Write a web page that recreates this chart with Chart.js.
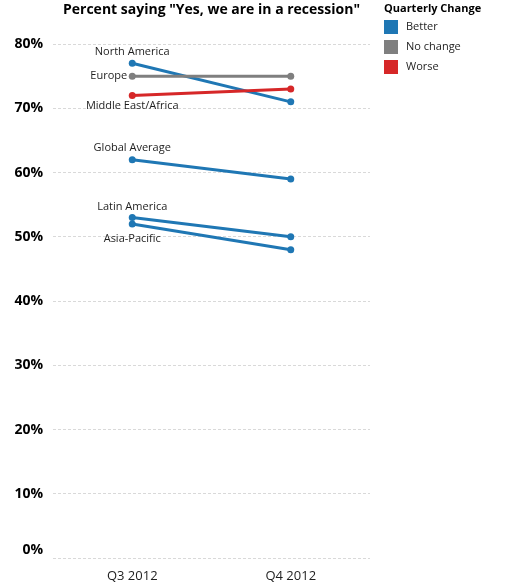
<!DOCTYPE html>
<html>
<head>
<meta charset="utf-8">
<script src="https://cdn.jsdelivr.net/npm/chart.js@4"></script>
<style>
  html, body { margin: 0; padding: 0; background: #fff; }
  #wrap { width: 521px; height: 585px; }
</style>
</head>
<body>
<div id="wrap"><canvas id="chart" width="521" height="585"></canvas></div>
<script>
// data
const quarters = ['Q3 2012', 'Q4 2012'];
const regions = ['North America', 'Europe', 'Middle East/Africa', 'Global Average', 'Latin America', 'Asia-Pacific'];
const northAmerica = [77, 71];
const europe = [75, 75];
const middleEastAfrica = [72, 73];
const globalAverage = [62, 59];
const latinAmerica = [53, 50];
const asiaPacific = [52, 48];
const changeGroup = ['Better', 'No change', 'Worse', 'Better', 'Better', 'Better'];
const legendItems = ['Better', 'No change', 'Worse'];
const yTicks = [0, 10, 20, 30, 40, 50, 60, 70, 80];

const FONT = '"Open Sans", "Noto Sans", sans-serif';
const colors = { 'Better': '#1f77b4', 'No change': '#7f7f7f', 'Worse': '#d62728' };

// where each region name sits relative to its Q3 point
const labelPos = {
  'North America': { dx: 0, dy: -11, align: 'center' },
  'Europe': { dx: -5, dy: 0, align: 'right' },
  'Middle East/Africa': { dx: 0, dy: 10, align: 'center' },
  'Global Average': { dx: 0, dy: -12, align: 'center' },
  'Latin America': { dx: 0, dy: -11, align: 'center' },
  'Asia-Pacific': { dx: 0, dy: 15, align: 'center' },
};

const seriesValues = [northAmerica, europe, middleEastAfrica, globalAverage, latinAmerica, asiaPacific];
const datasets = regions.map((name, i) => {
  const c = colors[changeGroup[i]];
  return {
    label: name,
    data: seriesValues[i],
    borderColor: c,
    backgroundColor: c,
    borderWidth: 3,
    pointRadius: 3.5,
    pointHoverRadius: 3.5,
    pointBorderWidth: 0,
    // grey under red, blue under both
    order: changeGroup[i] === 'Better' ? 3 : (changeGroup[i] === 'No change' ? 2 : 1),
  };
});

const overlay = {
  id: 'overlay',
  afterDatasetsDraw(chart) {
    const { ctx, chartArea, scales: { x, y } } = chart;
    ctx.save();
    // region labels
    ctx.font = `11px ${FONT}`;
    ctx.fillStyle = '#1e1e1e';
    ctx.textBaseline = 'middle';
    regions.forEach((name, i) => {
      const p = labelPos[name];
      ctx.textAlign = p.align;
      ctx.fillText(name, x.getPixelForValue(0) + p.dx, y.getPixelForValue(seriesValues[i][0]) + p.dy);
    });
    // title, centred over the plot
    ctx.font = `bold 14px ${FONT}`;
    ctx.fillStyle = '#000';
    ctx.textAlign = 'center';
    ctx.fillText('Percent saying "Yes, we are in a recession"', (chartArea.left + chartArea.right) / 2, 10);
    // legend
    const lx = 384;
    ctx.textAlign = 'left';
    ctx.font = `bold 11px ${FONT}`;
    ctx.fillText('Quarterly Change', lx, 9);
    ctx.font = `11px ${FONT}`;
    legendItems.forEach((item, i) => {
      const cy = 27 + i * 20;
      ctx.fillStyle = colors[item];
      ctx.fillRect(lx, cy - 7, 14, 14);
      ctx.fillStyle = '#1e1e1e';
      ctx.fillText(item, lx + 22, cy);
    });
    ctx.restore();
  }
};

new Chart(document.getElementById('chart'), {
  type: 'line',
  data: { labels: quarters, datasets },
  options: {
    responsive: false,
    animation: false,
    layout: { padding: { top: 44, right: 151, left: 0, bottom: 0 } },
    plugins: { legend: { display: false }, title: { display: false }, tooltip: { enabled: false } },
    scales: {
      x: {
        offset: true,
        grid: { display: false },
        border: { display: false },
        ticks: { color: '#1e1e1e', font: { family: FONT, size: 13 }, padding: 2 },
        afterFit: s => { s.height = 26; },
      },
      y: {
        min: 0,
        max: 80,
        afterBuildTicks: s => { s.ticks = yTicks.map(v => ({ value: v })); },
        grid: { color: '#d9d9d9', drawTicks: false },
        border: { display: false, dash: [3, 2] },
        ticks: {
          color: '#000',
          padding: 10,
          font: { family: FONT, size: 14, weight: 'bold' },
          // the bottom label sits a little above its gridline
          callback: v => v === 0 ? ['0%', ''] : v + '%',
        },
        afterFit: s => { s.width = 53; },
      },
    },
  },
  plugins: [overlay],
});
</script>
</body>
</html>
